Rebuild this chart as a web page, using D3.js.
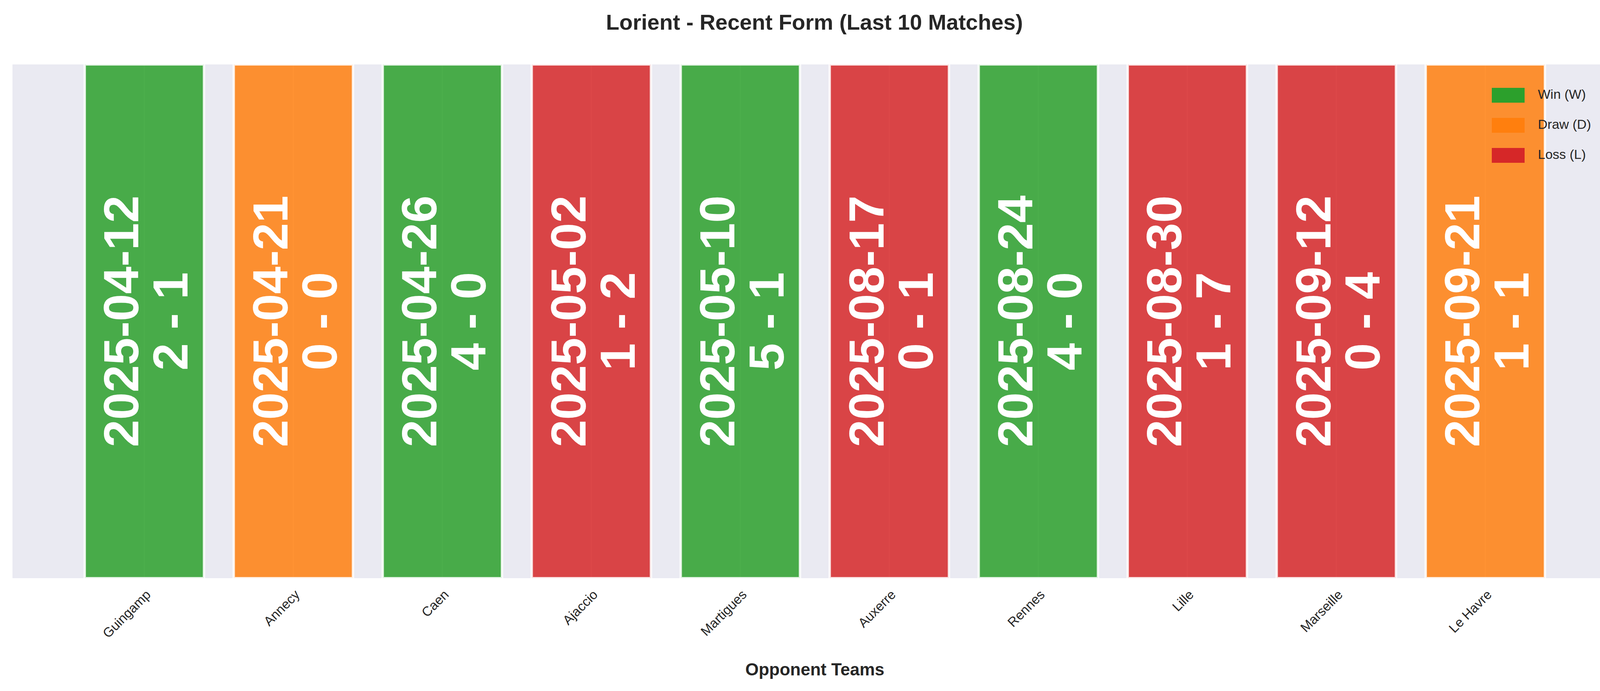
<!DOCTYPE html>
<html>
<head>
<meta charset="utf-8">
<script src="https://cdn.jsdelivr.net/npm/d3@7"></script>
<style>
  body { margin: 0; background: #fff; }
  text { font-family: "Liberation Sans", Arial, sans-serif; }
</style>
</head>
<body>
<div id="chart"></div>
<script>
const WIDTH = 4170, HEIGHT = 1770;

// match data
const opponents = ["Guingamp", "Annecy", "Caen", "Ajaccio", "Martigues", "Auxerre", "Rennes", "Lille", "Marseille", "Le Havre"];
const dates = ["2025-04-12", "2025-04-21", "2025-04-26", "2025-05-02", "2025-05-10", "2025-08-17", "2025-08-24", "2025-08-30", "2025-09-12", "2025-09-21"];
const scores = ["2 - 1", "0 - 0", "4 - 0", "1 - 2", "5 - 1", "0 - 1", "4 - 0", "1 - 7", "0 - 4", "1 - 1"];
const results = ["W", "D", "W", "L", "W", "L", "W", "L", "L", "D"];

const resultColors = { W: "#2ca02c", D: "#ff7f0e", L: "#d62728" };
const legendItems = [["W", "Win (W)"], ["D", "Draw (D)"], ["L", "Loss (L)"]];

const margin = { left: 32, right: 30, top: 165, bottom: 289 };

let svg = d3.select("#chart").append("svg")
  .attr("width", WIDTH)
  .attr("height", HEIGHT);

let x = d3.scaleLinear()
  .domain([-0.885, opponents.length - 1 + 0.885])
  .range([margin.left, WIDTH - margin.right]);
let y = d3.scaleLinear().domain([0, 1]).range([HEIGHT - margin.bottom, margin.top]);

const barW = x(0.8) - x(0);

//plot background
svg.append("rect")
  .attr("x", x.range()[0]).attr("y", y(1))
  .attr("width", x.range()[1] - x.range()[0])
  .attr("height", y(0) - y(1))
  .attr("fill", "#eaeaf2");

//grid lines at ticks
svg.append("g").selectAll("line")
  .data(opponents)
  .join("line")
  .attr("x1", (d, i) => x(i)).attr("x2", (d, i) => x(i))
  .attr("y1", y(1)).attr("y2", y(0))
  .attr("stroke", "#fff").attr("stroke-width", 3);

//bars
svg.append("g").selectAll("rect")
  .data(results)
  .join("rect")
  .attr("x", (d, i) => x(i) - barW / 2)
  .attr("y", y(1))
  .attr("width", barW)
  .attr("height", y(0) - y(1))
  .attr("fill", d => resultColors[d])
  .attr("fill-opacity", 0.85)
  .attr("stroke", "#fff")
  .attr("stroke-opacity", 0.85)
  .attr("stroke-width", 6);

//rotated labels inside bars
const cy = (y(0) + y(1)) / 2;
let labels = svg.append("g").selectAll("text")
  .data(dates)
  .join("text")
  .attr("transform", (d, i) => `translate(${x(i)},${cy}) rotate(-90)`)
  .attr("text-anchor", "middle")
  .attr("fill", "#fff")
  .attr("font-weight", "bold")
  .attr("font-size", 126);
labels.append("tspan").attr("x", 0).attr("dy", "-0.12em").text(d => d);
labels.append("tspan").attr("x", 0).attr("dy", "1.0em").text((d, i) => scores[i]);

//x tick labels
svg.append("g").selectAll("text")
  .data(opponents)
  .join("text")
  .attr("transform", (d, i) => `translate(${x(i) + 12},${y(0) + 38}) rotate(-45)`)
  .attr("text-anchor", "end")
  .attr("dominant-baseline", "middle")
  .attr("font-size", 34)
  .attr("fill", "#262626")
  .text(d => d);

//title
svg.append("text")
  .attr("x", WIDTH / 2).attr("y", 76)
  .attr("text-anchor", "middle")
  .attr("font-size", 56).attr("font-weight", "bold")
  .attr("fill", "#262626")
  .text("Lorient - Recent Form (Last 10 Matches)");

//axis title
svg.append("text")
  .attr("x", (x.range()[0] + x.range()[1]) / 2).attr("y", 1730)
  .attr("text-anchor", "middle")
  .attr("font-size", 44).attr("font-weight", "bold")
  .attr("fill", "#262626")
  .text("Opponent Teams");

//legend
let legend = svg.append("g").attr("transform", "translate(3819,225)");
let li = legend.selectAll("g")
  .data(legendItems)
  .join("g")
  .attr("transform", (d, i) => `translate(0,${i * 77})`);
li.append("rect")
  .attr("width", 84).attr("height", 38)
  .attr("fill", d => resultColors[d[0]]);
li.append("text")
  .attr("x", 118).attr("y", 19)
  .attr("dominant-baseline", "middle")
  .attr("font-size", 34)
  .attr("fill", "#262626")
  .text(d => d[1]);
</script>
</body>
</html>
